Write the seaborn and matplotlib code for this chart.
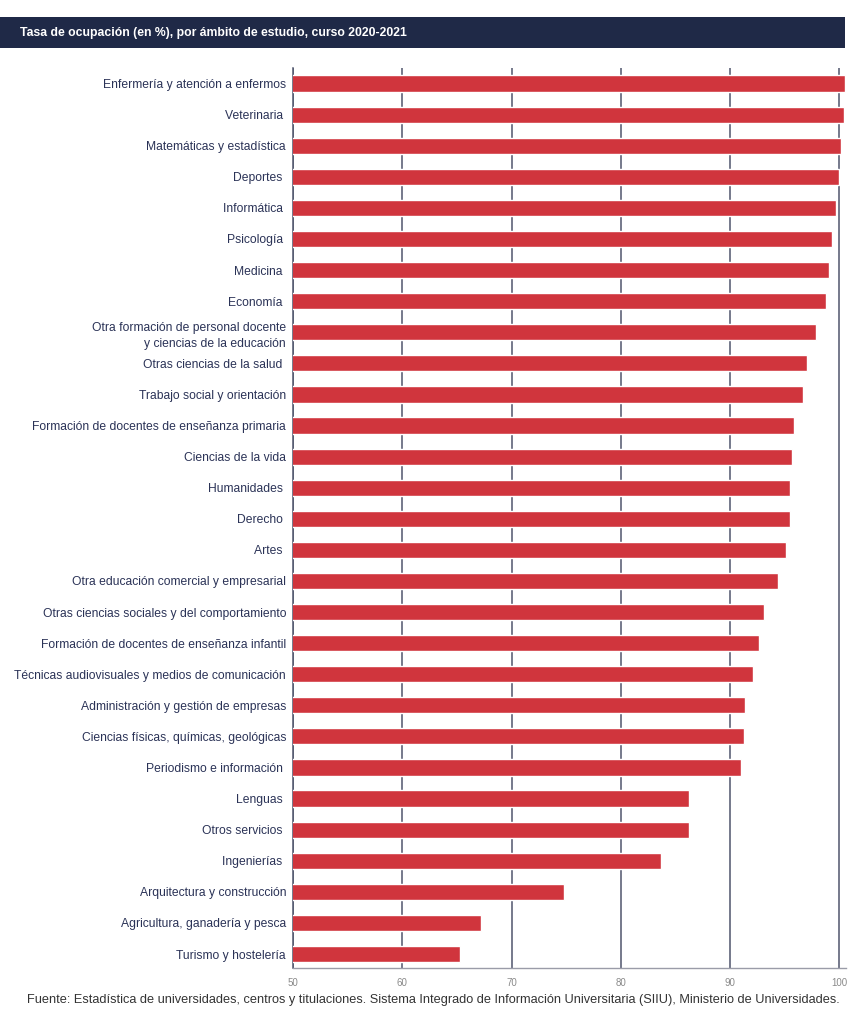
import matplotlib
matplotlib.use("Agg")
import matplotlib.pyplot as plt
from matplotlib import font_manager
from matplotlib.patches import Rectangle
import seaborn as sns
import pandas as pd

# --- Data ---
categories = [
    "Enfermería y atención a enfermos", "Veterinaria ", "Matemáticas y estadística",
    "Deportes ", "Informática ", "Psicología ", "Medicina ", "Economía ",
    "Otra formación de personal docente\ny ciencias de la educación",
    "Otras ciencias de la salud ", "Trabajo social y orientación",
    "Formación de docentes de enseñanza primaria", "Ciencias de la vida",
    "Humanidades ", "Derecho ", "Artes ", "Otra educación comercial y empresarial",
    "Otras ciencias sociales y del comportamiento",
    "Formación de docentes de enseñanza infantil",
    "Técnicas audiovisuales y medios de comunicación",
    "Administración y gestión de empresas", "Ciencias físicas, químicas, geológicas",
    "Periodismo e información ", "Lenguas ", "Otros servicios ", "Ingenierías ",
    "Arquitectura y construcción", "Agricultura, ganadería y pesca",
    "Turismo y hostelería",
]
occupancy = [
    100.55, 100.4, 100.1, 99.95, 99.7, 99.3, 99.0, 98.8, 97.9,
    97.0, 96.7, 95.8, 95.7, 95.5, 95.5, 95.1, 94.4, 93.1, 92.6,
    92.1, 91.4, 91.3, 91.0, 86.2, 86.2, 83.7, 74.8, 67.2, 65.3,
]
x_ticks = [50, 60, 70, 80, 90, 100]

TITLE = "Tasa de ocupación (en %), por ámbito de estudio, curso 2020-2021"
SOURCE = ("Fuente: Estadística de universidades, centros y titulaciones. Sistema Integrado de "
          "Información Universitaria (SIIU), Ministerio de Universidades.")

NAVY = "#1f2947"
LABEL = "#2b3357"
RED = "#d0353d"
GRID = "#4f556c"

sns.set_style("white")
available = {f.name for f in font_manager.fontManager.ttflist}
if "Liberation Sans Narrow" in available:
    narrow = ["Liberation Sans Narrow", "DejaVu Sans"]
    label_size, title_size = 10.4, 10.4
else:
    narrow = ["Liberation Sans", "DejaVu Sans"]
    label_size, title_size = 8.7, 8.8
plt.rcParams["font.family"] = ["Liberation Sans", "DejaVu Sans"]

df = pd.DataFrame({"ambito": categories, "tasa": occupancy})

fig = plt.figure(figsize=(8.53, 10.24), dpi=100)
ax = fig.add_axes([293 / 853, 1 - 968 / 1024, 553 / 853, 900 / 1024])

sns.barplot(data=df, x="tasa", y="ambito", orient="h", color=RED,
            width=0.52, saturation=1, ax=ax, zorder=3)

ax.set_xlim(50, 100.6)
ax.set_ylim(28.45, -0.5)
ax.set_xticks(x_ticks)
ax.set_xlabel("")
ax.set_ylabel("")
ax.xaxis.grid(True, color=GRID, linewidth=1.1, zorder=0)
ax.set_axisbelow(True)

for side in ["top", "right"]:
    ax.spines[side].set_visible(False)
ax.spines["left"].set_color(GRID)
ax.spines["left"].set_linewidth(1.1)
ax.spines["bottom"].set_color("#9a9ca8")
ax.spines["bottom"].set_linewidth(1.0)

ax.tick_params(axis="y", length=0, pad=5)
ax.tick_params(axis="x", length=3, color="#9a9ca8", pad=4, labelsize=7, labelcolor="#8a8a8a")
for lbl in ax.get_yticklabels():
    lbl.set_family(narrow)
    lbl.set_fontsize(label_size)
    lbl.set_color(LABEL)
    lbl.set_linespacing(1.5)

# Title banner
fig.patches.append(Rectangle((0, 1 - 48 / 1024), 845 / 853, 31 / 1024,
                             transform=fig.transFigure, facecolor=NAVY,
                             edgecolor="none", zorder=0))
fig.text(20 / 853, 1 - 33 / 1024, TITLE, color="white", fontsize=title_size,
         fontweight="bold", family=narrow, va="center", ha="left")

fig.text(840 / 853, 1 - 1000 / 1024, SOURCE, color="#333333", fontsize=9.2,
         va="center", ha="right")

fig.savefig("out.png", dpi=100)
